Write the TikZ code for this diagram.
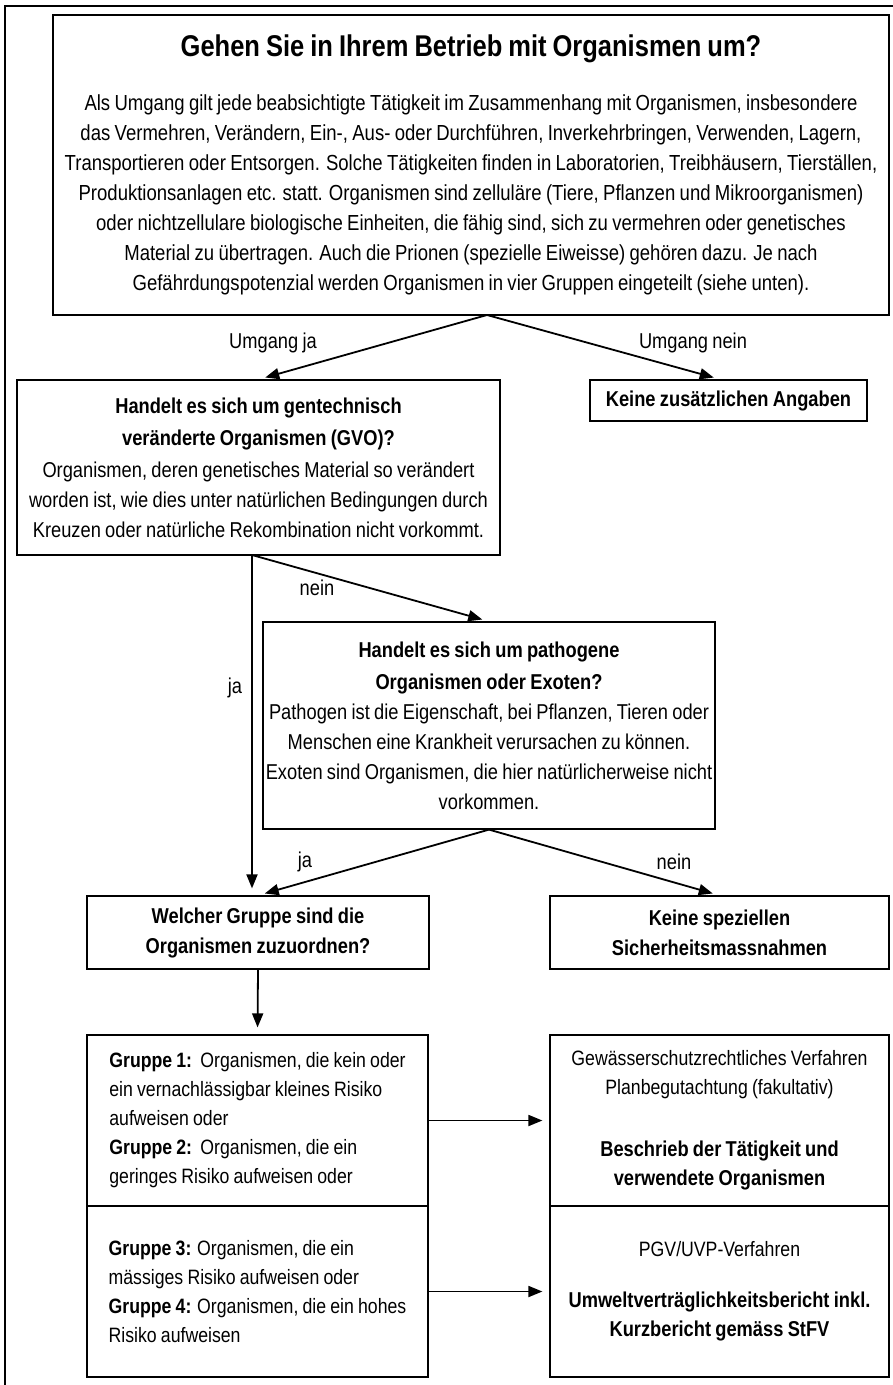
\documentclass[tikz,border=0pt]{standalone}
\usepackage{fontspec}
\setmainfont{Liberation Sans}[FakeStretch=0.85,WordSpace=0.85]
\usetikzlibrary{arrows.meta,positioning}

\newcommand{\fett}[1]{{\fontsize{21.5}{30}\selectfont\bfseries #1}}

\begin{document}
\begin{tikzpicture}[x=1pt,y=-1pt,
  every node/.style={font=\fontsize{21.5}{30}\selectfont},
  box/.style={draw,line width=1.2pt,inner sep=0pt,align=center},
  grp/.style={box,align=left,minimum width=341pt,
              minimum height=171pt,font=\fontsize{20.8}{29}\selectfont},
  res/.style={box,minimum width=339pt,minimum height=171pt,
              font=\fontsize{20.8}{29}\selectfont},
  arr/.style={-{Triangle[length=14pt,width=11pt]},line width=1.8pt,
              shorten >=7pt},
  lbl/.style={inner sep=1pt}]
  \useasboundingbox (0,0) rectangle (893,1385);
  % Rahmen
  \draw[line width=1.2pt] (893,6) -- (5,6) -- (5,1385);

  % Frage 1
  \node[box,minimum width=836pt,minimum height=300pt,
        font=\fontsize{21.8}{30}\selectfont] (umgang) at (471,165)
    {{\fontsize{30}{30}\selectfont\bfseries Gehen Sie in Ihrem Betrieb mit Organismen um?}\\[24pt]
     Als Umgang gilt jede beabsichtigte Tätigkeit im Zusammenhang mit Organismen, insbesondere\\
     das Vermehren, Verändern, Ein-, Aus- oder Durchführen, Inverkehrbringen, Verwenden, Lagern,\\
     Transportieren oder Entsorgen. Solche Tätigkeiten finden in Laboratorien, Treibhäusern, Tierställen,\\
     Produktionsanlagen etc. statt. Organismen sind zelluläre (Tiere, Pflanzen und Mikroorganismen)\\
     oder nichtzellulare biologische Einheiten, die fähig sind, sich zu vermehren oder genetisches\\
     Material zu übertragen. Auch die Prionen (spezielle Eiweisse) gehören dazu. Je nach\\
     Gefährdungspotenzial werden Organismen in vier Gruppen eingeteilt (siehe unten).};
  \coordinate (split1) at (487,315);

  % Frage 2
  \node[box,minimum width=483pt,minimum height=175pt] (gvo) at (258.5,467.5)
    {\fett{Handelt es sich um gentechnisch}\\[2pt]
     \fett{veränderte Organismen (GVO)?}\\[2pt]
     Organismen, deren genetisches Material so verändert\\
     worden ist, wie dies unter natürlichen Bedingungen durch\\
     Kreuzen oder natürliche Rekombination nicht vorkommt.};
  \node[box,minimum width=277pt,minimum height=41pt] (keine1) at (728.5,400.5)
    {\fett{Keine zusätzlichen Angaben}};
  \coordinate (split2) at (252,555);

  % Frage 3
  \node[box,minimum width=452pt,minimum height=207pt] (patho) at (489,725.5)
    {\fett{Handelt es sich um pathogene}\\[2pt]
     \fett{Organismen oder Exoten?}\\
     Pathogen ist die Eigenschaft, bei Pflanzen, Tieren oder\\
     Menschen eine Krankheit verursachen zu können.\\
     Exoten sind Organismen, die hier natürlicherweise nicht\\
     vorkommen.};

  % Gruppen
  \node[box,minimum width=342pt,minimum height=73pt] (welche) at (258,932.5)
    {\fett{Welcher Gruppe sind die}\\ \fett{Organismen zuzuordnen?}};
  \node[box,minimum width=339pt,minimum height=73pt] (keine2) at (719.5,932.5)
    {\fett{Keine speziellen}\\ \fett{Sicherheitsmassnahmen}};

  \node[grp] (grp12) at (257.5,1120.5)
    {\textbf{Gruppe 1:}\ \ Organismen, die kein oder\\
     ein vernachlässigbar kleines Risiko\\
     aufweisen oder\\
     \textbf{Gruppe 2:}\ \ Organismen, die ein\\
     geringes Risiko aufweisen oder};
  \node[grp] (grp34) at (257.5,1291.5)
    {\textbf{Gruppe 3:} Organismen, die ein\\
     mässiges Risiko aufweisen oder\\
     \textbf{Gruppe 4:} Organismen, die ein hohes\\
     Risiko aufweisen};
  \node[res] (gsch) at (719.5,1120.5)
    {Gewässerschutzrechtliches Verfahren\\
     Planbegutachtung (fakultativ)\\[33pt]
     \fett{Beschrieb der Tätigkeit und}\\
     \fett{verwendete Organismen}};
  \node[res] (uvp) at (719.5,1291.5)
    {PGV/UVP-Verfahren\\[22pt]
     \fett{Umweltverträglichkeitsbericht inkl.}\\
     \fett{Kurzbericht gemäss StFV}};

  % Beschriftungen
  \node[lbl] (lumja) at (273,343) {Umgang ja};
  \node[lbl] (lumnein) at (693,343) {Umgang nein};
  \node[lbl] (lnein1) at (317,588) {nein};
  \node[lbl] (lja1) at (235,688) {ja};
  \node[lbl] (lja2) at (305,862) {ja};
  \node[lbl] (lnein2) at (674,862) {nein};

  \draw[arr] (split1) -- (gvo.north);
  \draw[arr] (split1) -- ([xshift=-8pt]keine1.north);
  \draw[arr] (split2) -- (split2 |- welche.north);
  \draw[arr] (split2) -- (patho.north);
  \draw[arr] (patho.south) -- (welche.north);
  \draw[arr] (patho.south) -- (keine2.north);
  \draw[arr] (welche.south) -- (grp12.north);
  \draw[arr] (grp12.east) -- (gsch.west);
  \draw[arr] (grp34.east) -- (uvp.west);
\end{tikzpicture}
\end{document}
